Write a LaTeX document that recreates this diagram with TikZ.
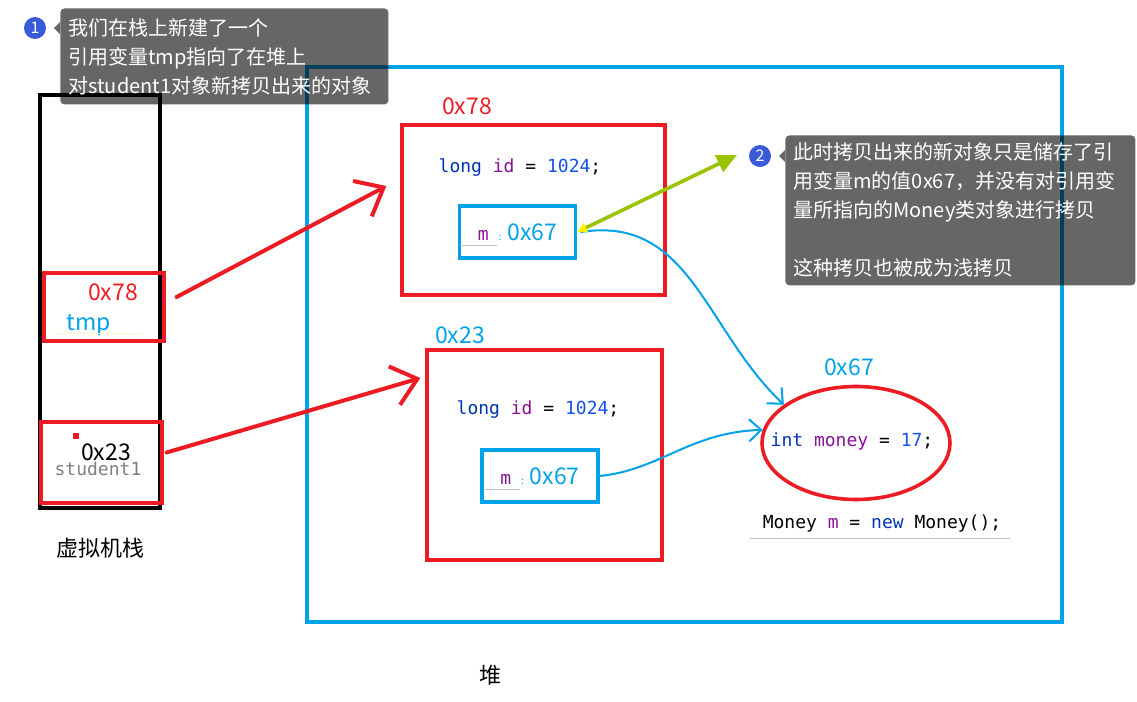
\documentclass[tikz,border=0pt]{standalone}
\usepackage{fontspec}
\setmainfont{Noto Sans CJK SC}
\setmonofont{DejaVu Sans Mono}
\usetikzlibrary{
    arrows.meta,
    positioning,
    calc,
    shapes.geometric
}
\definecolor{heapblue}{HTML}{00A2E8}
\definecolor{boxred}{HTML}{ED1C24}
\definecolor{bubbleblue}{HTML}{3A5BD9}
\definecolor{codekw}{HTML}{0033B3}
\definecolor{codeid}{HTML}{871094}
\definecolor{codenum}{HTML}{1750EB}
\definecolor{notegreen}{HTML}{9BC400}
\newcommand{\kwd}[1]{\textcolor{codekw}{#1}}
\newcommand{\idf}[1]{\textcolor{codeid}{#1}}
\newcommand{\nmb}[1]{\textcolor{codenum}{#1}}
\newcommand{\mfield}{{\ttfamily\fontsize{9}{11}\selectfont\idf{m}}\hspace{5pt}{\tiny :}\hspace{3pt}0x67}
\tikzset{
    % --- JVM stack frame ---
    stack frame/.style = {
        rectangle, draw=black, line width=2pt,
        minimum width=60pt, minimum height=206.5pt
    },
    % --- Heap area ---
    heap area/.style = {
        rectangle, draw=heapblue, line width=2pt,
        minimum width=377.5pt, minimum height=277.5pt
    },
    % --- Red slot / object box ---
    red box/.style = {
        rectangle, draw=boxred, line width=1.6pt
    },
    % --- Blue reference field ---
    field box/.style = {
        rectangle, draw=heapblue, line width=1.6pt,
        minimum width=58pt, minimum height=26pt,
        text=heapblue, font=\fontsize{11.5}{13}\selectfont
    },
    % --- Address label ---
    addr/.style = {
        font=\fontsize{11.5}{13}\selectfont, inner sep=0pt
    },
    % --- Source code text ---
    code/.style = {
        font=\ttfamily\fontsize{9}{11}\selectfont, inner sep=0pt
    },
    % --- Area caption ---
    caption/.style = {
        font=\fontsize{11}{13}\selectfont, inner sep=0pt
    },
    % --- Annotation callout ---
    callout/.style = {
        rectangle, fill=black, fill opacity=0.6, text opacity=1,
        text=white, rounded corners=2pt, anchor=north west,
        font=\fontsize{10}{14.5}\selectfont, align=left,
        inner xsep=4pt, inner ysep=3pt
    },
    callout tip/.style = {
        fill=black, fill opacity=0.6
    },
    % --- Numbered bubble ---
    bubble/.style = {
        circle, fill=bubbleblue, text=white,
        minimum size=11pt, inner sep=0pt,
        font=\fontsize{8}{9}\selectfont
    },
    % --- Reference arrows ---
    ref arrow/.style = {
        draw=boxred, line width=2pt, line cap=round,
        -{Straight Barb[length=12pt, width=20pt, line width=2pt]}
    },
    link arrow/.style = {
        draw=heapblue, line width=1pt, line cap=round,
        -{Straight Barb[length=6pt, width=11pt, line width=1pt]}
    },
    note arrow/.style = {
        draw=notegreen, line width=1.8pt,
        {Triangle[color=yellow, length=5pt, width=5pt]}-{Triangle[length=10pt, width=9pt]}
    },
    % --- Editor underline ---
    underline/.style = {
        draw=black!25, line width=0.4pt
    }
}

\begin{document}
\begin{tikzpicture}[x=0.5pt, y=-0.5pt]
\useasboundingbox (0,0) rectangle (1137,702);

% ---------------------------------------------------------
% Stack
% ---------------------------------------------------------
\node[stack frame] (stack) at (100,301.5) {};
\node[red box, minimum width=60pt, minimum height=34pt] (tmpslot) at (104,307) {};
\node[addr, text=boxred] (tmpaddr) at (113,292) {0x78};
\node[addr, text=heapblue] (tmpname) at (89,325) {tmp};
\draw[draw=black!12!yellow!20] (56,333) -- (143,333);
\node[red box, minimum width=60.5pt, minimum height=40.5pt] (stuslot) at (101.5,462.5) {};
\fill[boxred] (73,433) rectangle (79,439);
\node[addr] (stuaddr) at (106,452) {0x23};
\node[code, text=black!50] (stuname) at (98,469) {student1};
\node[caption] (stacklabel) at (100,548) {虚拟机栈};

% ---------------------------------------------------------
% Heap
% ---------------------------------------------------------
\node[heap area] (heap) at (684.5,344.5) {};
\node[caption] (heaplabel) at (490,675) {堆};

% copied object
\node[red box, minimum width=131.5pt, minimum height=85pt] (obj1) at (533.5,210) {};
\node[addr, text=boxred] (obj1addr) at (467,106) {0x78};
\node[code] (obj1id) at (520,168) {\kwd{long} \idf{id} = \nmb{1024};};
\node[field box] (mref1) at (517.5,232) {\mfield};
\draw[underline] (462,245) -- (497,245);

% original object
\node[red box, minimum width=117.5pt, minimum height=105pt] (obj2) at (544.5,455) {};
\node[addr, text=heapblue] (obj2addr) at (460,335) {0x23};
\node[code] (obj2id) at (538,410) {\kwd{long} \idf{id} = \nmb{1024};};
\node[field box] (mref2) at (540,476) {\mfield};
\draw[underline] (485,489) -- (520,489);

% Money object
\node[ellipse, draw=boxred, line width=1.8pt, minimum width=94pt, minimum height=56.5pt] (money) at (856,443) {};
\node[addr, text=heapblue] (moneyaddr) at (849,367) {0x67};
\node[code] (moneyfield) at (852,442) {\kwd{int} \idf{money} = \nmb{17};};
\node[code] (moneynew) at (882,524) {Money \idf{m} = \kwd{new} Money();};
\draw[underline] (750,538) -- (1010,538);

% ---------------------------------------------------------
% References
% ---------------------------------------------------------
\draw[ref arrow] ([xshift=5.5pt, yshift=5pt]tmpslot.east) -- ([xshift=-7pt, yshift=12pt]obj1.west);
\draw[ref arrow] ([xshift=1.5pt, yshift=5pt]stuslot.east) -- ([xshift=-2.5pt, yshift=38.5pt]obj2.west);
\draw[link arrow] ([xshift=2pt]mref1.east) .. controls (690,215) and (705,330) .. (money.152);
\draw[link arrow] (mref2.east) .. controls (660,470) and (690,432) .. (money.172);

% ---------------------------------------------------------
% Callouts
% ---------------------------------------------------------
\node[callout, text width=156pt, minimum height=48pt] (note1) at (60,8)
    {我们在栈上新建了一个\\引用变量tmp指向了在堆上\\对student1对象新拷贝出来的对象};
\fill[callout tip] (60,22) -- (54,28) -- (60,34) -- cycle;
\node[bubble] (bubble1) at (35,28) {1};

\node[callout, text width=167pt, minimum height=75pt] (note2) at (785,135)
    {此时拷贝出来的新对象只是储存了引\\用变量m的值0x67，并没有对引用变\\量所指向的Money类对象进行拷贝\\[14.5pt]这种拷贝也被成为浅拷贝};
\fill[callout tip] (785,150) -- (779,156) -- (785,162) -- cycle;
\node[bubble] (bubble2) at (760,156) {2};
\coordinate (notetip) at (737,155);
\draw[note arrow] (mref1.east) -- (notetip);

\end{tikzpicture}
\end{document}
